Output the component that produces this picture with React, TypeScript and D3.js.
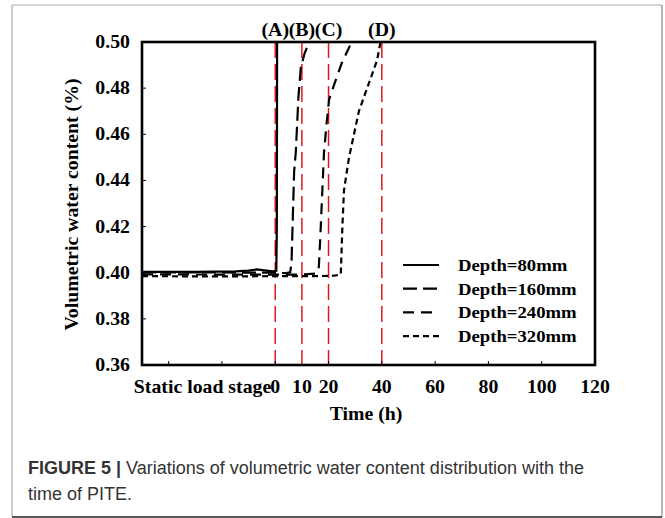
import React from 'react'
import * as d3 from 'd3'

// tick values
const yTicks = [0.36, 0.38, 0.4, 0.42, 0.44, 0.46, 0.48, 0.5]
const xTickMarks = [-40, -20, 0, 20, 40, 60, 80, 100, 120]
const xTickLabels = [0, 10, 20, 40, 60, 80, 100, 120]
const stageLines = [0, 10, 20, 40]
const stageNames = ['(A)', '(B)', '(C)', '(D)']

// series: [time (h), volumetric water content]
const depth80: [number, number][] = [
  [-50, 0.4004], [-30, 0.4004], [-15, 0.4006], [-10, 0.4009], [-7, 0.4014], [-4, 0.4010],
  [-1, 0.4006], [0.4, 0.4008], [0.6, 0.42], [0.7, 0.5],
]
const depth160: [number, number][] = [
  [-50, 0.4001], [-20, 0.4001], [0, 0.4], [4, 0.3998], [5.6, 0.4002], [6.1, 0.404],
  [6.5, 0.42], [7.1, 0.444], [7.7, 0.452], [8.7, 0.476], [9.6, 0.489], [11, 0.495], [12.7, 0.5],
]
const depth240: [number, number][] = [
  [-50, 0.3993], [-20, 0.3992], [0, 0.3992], [10, 0.3992], [15, 0.3996], [16.3, 0.4012],
  [16.9, 0.415], [17.5, 0.431], [18.3, 0.452], [19.3, 0.465], [20.2, 0.475], [22.7, 0.4835],
  [25, 0.491], [28.7, 0.5],
]
const depth320: [number, number][] = [
  [-50, 0.3985], [-20, 0.3984], [0, 0.3985], [15, 0.3985], [22, 0.3987], [24.6, 0.3992],
  [25.2, 0.42], [25.8, 0.4357], [27.7, 0.45], [31.4, 0.47], [35.1, 0.482], [38.2, 0.492], [39.5, 0.5],
]
const seriesNames = ['Depth=80mm', 'Depth=160mm', 'Depth=240mm', 'Depth=320mm']
const seriesData = [depth80, depth160, depth240, depth320]
const seriesDash = ['none', '14,6', '11,7', '6,4']

const serif = '"Liberation Serif", "Times New Roman", serif'
const sans = '"Liberation Sans", Arial, sans-serif'

// bold serif text, a little wider than the stock font (like the source figure)
function T({ x, y, anchor = 'start', size = 18, rotate = 0, children }: any) {
  return (
    <text
      transform={`translate(${x}, ${y}) rotate(${rotate}) scale(1.1, 1)`}
      textAnchor={anchor}
      fontFamily={serif}
      fontWeight="bold"
      fontSize={size}
    >
      {children}
    </text>
  )
}

export default function App() {
  const margin = { left: 142, top: 42, right: 595, bottom: 365 }
  const x = d3.scaleLinear().domain([-50, 120]).range([margin.left, margin.right])
  const y = d3.scaleLinear().domain([0.36, 0.5]).range([margin.bottom, margin.top])
  const line = d3
    .line<[number, number]>()
    .x((d) => x(d[0]))
    .y((d) => y(d[1]))
    .curve(d3.curveLinear)

  return (
    <svg width={665} height={518} style={{ position: 'absolute', left: 0, top: 0 }}>
      <rect x={0} y={0} width={665} height={518} fill="#fff" />
      {/* figure frame */}
      <line x1={12} y1={5} x2={662} y2={5} stroke="#aaa" strokeWidth={1.2} />
      <line x1={12} y1={5} x2={12} y2={517} stroke="#aaa" strokeWidth={1.2} />
      <line x1={662} y1={5} x2={662} y2={517} stroke="#888" strokeWidth={1.2} />
      <line x1={12} y1={517} x2={662} y2={517} stroke="#222" strokeWidth={1.5} />

      {/* stage lines */}
      {stageLines.map((s) => (
        <line key={s} x1={x(s)} x2={x(s)} y1={margin.top} y2={margin.bottom} stroke="#e8141c" strokeWidth={1.5} strokeDasharray="16,6" />
      ))}
      {stageLines.map((s, i) => (
        <T key={'n' + s} x={x(s)} y={36} anchor="middle">
          {stageNames[i]}
        </T>
      ))}

      {/* series */}
      {seriesData.map((d, i) => (
        <path key={i} d={line(d) || ''} fill="none" stroke="#000" strokeWidth={2.2} strokeDasharray={seriesDash[i]} />
      ))}

      {/* plot frame */}
      <rect x={margin.left} y={margin.top} width={margin.right - margin.left} height={margin.bottom - margin.top} fill="none" stroke="#000" strokeWidth={2.6} />

      {/* y axis */}
      {yTicks.map((t) => (
        <g key={t}>
          <line x1={margin.left} x2={margin.left + 4} y1={y(t)} y2={y(t)} stroke="#000" strokeWidth={1} />
          <T x={130} y={y(t) + 6} anchor="end">
            {t.toFixed(2)}
          </T>
        </g>
      ))}
      <T x={78} y={(margin.top + margin.bottom) / 2 + 1} anchor="middle" rotate={-90}>
        Volumetric water content (%)
      </T>

      {/* x axis */}
      {xTickMarks.map((t) => (
        <line key={t} x1={x(t)} x2={x(t)} y1={margin.bottom} y2={margin.bottom - 4} stroke="#000" strokeWidth={1} />
      ))}
      {xTickLabels.map((t) => (
        <T key={t} x={x(t)} y={393} anchor="middle">
          {t}
        </T>
      ))}
      <T x={x(0) - 4} y={393} anchor="end">
        Static load stage
      </T>
      <T x={366} y={420} anchor="middle">
        Time (h)
      </T>

      {/* legend */}
      {seriesNames.map((n, i) => (
        <g key={n} transform={`translate(403, ${265 + i * 23.7})`}>
          <line x1={0} x2={36} y1={0} y2={0} stroke="#000" strokeWidth={2.2} strokeDasharray={seriesDash[i]} />
          <T x={55} y={6} size={17}>
            {n}
          </T>
        </g>
      ))}

      {/* caption */}
      <text x={28} y={474} fontFamily={sans} fontSize={18} fill="#333">
        <tspan fontWeight="bold">FIGURE 5 | </tspan>
        <tspan>Variations of volumetric water content distribution with the</tspan>
      </text>
      <text x={28} y={500} fontFamily={sans} fontSize={18} fill="#333">
        time of PITE.
      </text>
    </svg>
  )
}
